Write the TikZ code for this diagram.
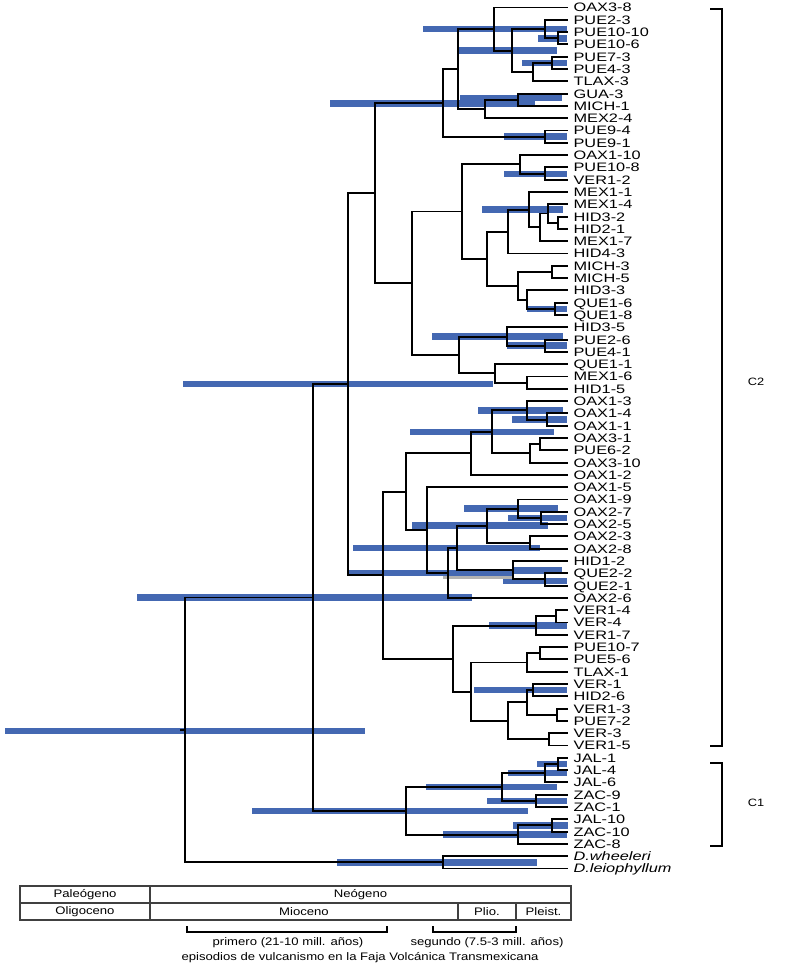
\documentclass[tikz,border=0pt]{standalone}
\usepackage{fontspec}
\newfontfamily\labfont{Liberation Sans}[FakeStretch=1.2]
\newfontfamily\tipfont{Liberation Sans}[FakeStretch=1.33]
\definecolor{hpd}{RGB}{68,104,178}
\newcommand\twokids[3]{\draw[branch] (#1) |- (#2); \draw[branch] (#1) |- (#3);}
\begin{document}
\begin{tikzpicture}[x=0.75pt,y=-0.75pt,
  branch/.style={line width=1.45pt,black},
  hpdbar/.style={line width=4.9pt,hpd},
  tiplabel/.style={anchor=west,inner xsep=4pt,inner ysep=0pt,text height=6.6pt,text depth=0pt,font=\tipfont\fontsize{9.2}{10}\selectfont},
  celltext/.style={inner sep=0pt,font=\labfont\fontsize{8.2}{10}\selectfont},
  clab/.style={inner sep=0pt,font=\labfont\fontsize{8}{10}\selectfont},
  tline/.style={line width=0.8pt,black!75},
  brk/.style={line width=1.2pt,black}]
\useasboundingbox (0,0) rectangle (794,967);
% ---------- HPD bars ----------
\foreach \xa/\xb/\yy in {423/567/29.03, 538/567/38.25, 457/557/50.55, 522/567/62.85,
  460/562/98, 330/535/103.5, 504/567/136.65, 504/567/174, 482/563/209.68,
  527/567/308.85, 432/563/336.53, 507/567/345.75, 183/493/384.11,
  478/563/410.33, 512/567/419.55, 410/554/431.85, 464/558/508.73,
  508/567/517.95, 412/548/525.64, 353/540/547.93, 348/513/572.92,
  513/562/570.23, 503/567/581, 137/472/597.48, 489/567/625.58,
  474/567/690.15, 5/365/731, 537/567/763.95, 508/567/773.18,
  426/557/787.01, 487/567/800.85, 252/528/810.84, 513/568/825.45,
  443/567/834.68, 337/537/862.35}
  {\draw[hpdbar] (\xa,\yy) -- (\xb,\yy);}
\draw[line width=2pt,gray!60] (443,577.5) -- (513,577.5);
% ---------- tips ----------
\foreach \nm [count=\i from 0] in {OAX3-8, PUE2-3, PUE10-10, PUE10-6, PUE7-3, PUE4-3, TLAX-3, GUA-3, MICH-1, MEX2-4, PUE9-4, PUE9-1, OAX1-10, PUE10-8, VER1-2, MEX1-1, MEX1-4, HID3-2, HID2-1, MEX1-7, HID4-3, MICH-3, MICH-5, HID3-3, QUE1-6, QUE1-8, HID3-5, PUE2-6, PUE4-1, QUE1-1, MEX1-6, HID1-5, OAX1-3, OAX1-4, OAX1-1, OAX3-1, PUE6-2, OAX3-10, OAX1-2, OAX1-5, OAX1-9, OAX2-7, OAX2-5, OAX2-3, OAX2-8, HID1-2, QUE2-2, QUE2-1, OAX2-6, VER1-4, VER-4, VER1-7, PUE10-7, PUE5-6, TLAX-1, VER-1, HID2-6, VER1-3, PUE7-2, VER-3, VER1-5, JAL-1, JAL-4, JAL-6, ZAC-9, ZAC-1, JAL-10, ZAC-10, ZAC-8}
  {\node[tiplabel] (L\i) at (568,{7.5+12.3*\i}) {\nm};}
\node[tiplabel] (L69) at (568,856.2) {\itshape D.wheeleri};
\node[tiplabel] (L70) at (568,868.5) {\itshape D.leiophyllum};
% ---------- internal nodes ----------
\coordinate (a5) at (558,38.25);
\coordinate (a3) at (545,29.03);
\coordinate (a6) at (552,62.85);
\coordinate (a4) at (533,72.08);
\coordinate (a2) at (512,50.55);
\coordinate (a1) at (494,29.03);
\coordinate (a9) at (518,99.75);
\coordinate (a8) at (485,108.98);
\coordinate (a0) at (458,69.0);
\coordinate (a10) at (545,136.65);
\coordinate (a7) at (443,102.83);
\coordinate (b2) at (545,173.55);
\coordinate (b1) at (520,164.33);
\coordinate (c1) at (558,222.75);
\coordinate (c2) at (548,213.53);
\coordinate (c3) at (540,227.36);
\coordinate (c4) at (529,209.68);
\coordinate (c5) at (508,231.59);
\coordinate (d1) at (552,271.95);
\coordinate (d2) at (555,308.85);
\coordinate (d3) at (527,299.63);
\coordinate (d4) at (518,285.79);
\coordinate (c6) at (487,258.69);
\coordinate (b3) at (462,211.51);
\coordinate (e1) at (545,345.75);
\coordinate (e2) at (507,336.53);
\coordinate (e3) at (527,382.65);
\coordinate (e4) at (495,373.43);
\coordinate (e5) at (459,354.98);
\coordinate (b4) at (412,283.25);
\coordinate (p16) at (375,193.04);
\coordinate (f1) at (547,419.55);
\coordinate (f2) at (527,410.33);
\coordinate (f3) at (540,444.15);
\coordinate (f4) at (530,453.38);
\coordinate (f5) at (492,431.85);
\coordinate (f6) at (471,453.38);
\coordinate (g1) at (541,517.95);
\coordinate (g2) at (518,508.73);
\coordinate (g3) at (530,542.55);
\coordinate (g4) at (487,525.64);
\coordinate (h1) at (545,579.45);
\coordinate (h2) at (513,570.23);
\coordinate (g5) at (457,547.93);
\coordinate (g6) at (448,572.92);
\coordinate (g7) at (427,530.06);
\coordinate (f7) at (406,491.72);
\coordinate (i1) at (556,616.35);
\coordinate (i2) at (536,625.58);
\coordinate (j1) at (540,653.25);
\coordinate (j2) at (527,662.48);
\coordinate (k1) at (533,690.15);
\coordinate (k2) at (557,714.75);
\coordinate (k3) at (527,702.45);
\coordinate (k4) at (549,739.35);
\coordinate (k5) at (508,720.9);
\coordinate (j3) at (471,691.69);
\coordinate (i3) at (453,658.64);
\coordinate (f8) at (383,575.18);
\coordinate (p15) at (348,384.11);
\coordinate (m1) at (558,763.95);
\coordinate (m2) at (545,773.18);
\coordinate (m3) at (536,800.85);
\coordinate (m4) at (502,787.01);
\coordinate (m5) at (552,825.45);
\coordinate (m6) at (518,834.68);
\coordinate (m7) at (406,810.84);
\coordinate (p13) at (313,597.48);
\coordinate (dd) at (443,862.35);
\coordinate (rt) at (185,729.9);
\coordinate (stub) at (180,729.9);
% ---------- branches ----------
\twokids{a5}{L2.west}{L3.west}
\twokids{a3}{L1.west}{a5}
\twokids{a6}{L4.west}{L5.west}
\twokids{a4}{a6}{L6.west}
\twokids{a2}{a3}{a4}
\twokids{a1}{L0.west}{a2}
\twokids{a9}{L7.west}{L8.west}
\twokids{a8}{a9}{L9.west}
\twokids{a0}{a1}{a8}
\twokids{a10}{L10.west}{L11.west}
\twokids{a7}{a0}{a10}
\twokids{b2}{L13.west}{L14.west}
\twokids{b1}{L12.west}{b2}
\twokids{c1}{L17.west}{L18.west}
\twokids{c2}{L16.west}{c1}
\twokids{c3}{c2}{L19.west}
\twokids{c4}{L15.west}{c3}
\twokids{c5}{c4}{L20.west}
\twokids{d1}{L21.west}{L22.west}
\twokids{d2}{L24.west}{L25.west}
\twokids{d3}{L23.west}{d2}
\twokids{d4}{d1}{d3}
\twokids{c6}{c5}{d4}
\twokids{b3}{b1}{c6}
\twokids{e1}{L27.west}{L28.west}
\twokids{e2}{L26.west}{e1}
\twokids{e3}{L30.west}{L31.west}
\twokids{e4}{L29.west}{e3}
\twokids{e5}{e2}{e4}
\twokids{b4}{b3}{e5}
\twokids{p16}{a7}{b4}
\twokids{f1}{L33.west}{L34.west}
\twokids{f2}{L32.west}{f1}
\twokids{f3}{L35.west}{L36.west}
\twokids{f4}{f3}{L37.west}
\twokids{f5}{f2}{f4}
\twokids{f6}{f5}{L38.west}
\twokids{g1}{L41.west}{L42.west}
\twokids{g2}{L40.west}{g1}
\twokids{g3}{L43.west}{L44.west}
\twokids{g4}{g2}{g3}
\twokids{h1}{L46.west}{L47.west}
\twokids{h2}{L45.west}{h1}
\twokids{g5}{g4}{h2}
\twokids{g6}{g5}{L48.west}
\twokids{g7}{L39.west}{g6}
\twokids{f7}{f6}{g7}
\twokids{i1}{L49.west}{L50.west}
\twokids{i2}{i1}{L51.west}
\twokids{j1}{L52.west}{L53.west}
\twokids{j2}{j1}{L54.west}
\twokids{k1}{L55.west}{L56.west}
\twokids{k2}{L57.west}{L58.west}
\twokids{k3}{k1}{k2}
\twokids{k4}{L59.west}{L60.west}
\twokids{k5}{k3}{k4}
\twokids{j3}{j2}{k5}
\twokids{i3}{i2}{j3}
\twokids{f8}{f7}{i3}
\twokids{p15}{p16}{f8}
\twokids{m1}{L61.west}{L62.west}
\twokids{m2}{m1}{L63.west}
\twokids{m3}{L64.west}{L65.west}
\twokids{m4}{m2}{m3}
\twokids{m5}{L66.west}{L67.west}
\twokids{m6}{m5}{L68.west}
\twokids{m7}{m4}{m6}
\twokids{p13}{p15}{m7}
\twokids{dd}{L69.west}{L70.west}
\twokids{rt}{p13}{dd}
\draw[branch] (stub) -- (rt);
% ---------- clade brackets ----------
\draw[brk] (710,9) -- (722,9) -- (722,746) -- (710,746);
\node[clab] (c2lab) at (756,382) {C2};
\draw[brk] (710,763) -- (722,763) -- (722,846) -- (710,846);
\node[clab] (c1lab) at (756,803) {C1};
% ---------- time table ----------
\draw[tline] (20,886) rectangle (571,920);
\draw[tline] (20,903) -- (571,903);
\draw[tline] (150,886) -- (150,920);
\draw[tline] (458,903) -- (458,920);
\draw[tline] (516,903) -- (516,920);
\node[celltext] (pal) at (85,894.5) {Paleógeno};
\node[celltext] (neo) at (360.5,894.5) {Neógeno};
\node[celltext] (oli) at (85,911.5) {Oligoceno};
\node[celltext] (mio) at (304,911.5) {Mioceno};
\node[celltext] (pli) at (487,911.5) {Plio.};
\node[celltext] (ple) at (543.5,911.5) {Pleist.};
% ---------- volcanism episodes ----------
\draw[brk] (187,926) -- (187,932) -- (387,932) -- (387,926);
\draw[brk] (433,926) -- (433,932) -- (516,932) -- (516,926);
\node[celltext] (prim) at (288,943) {primero (21-10 mill. años)};
\node[celltext] (segu) at (487,943) {segundo (7.5-3 mill. años)};
\node[celltext] (epis) at (360,958) {episodios de vulcanismo en la Faja Volcánica Transmexicana};
\end{tikzpicture}
\end{document}
